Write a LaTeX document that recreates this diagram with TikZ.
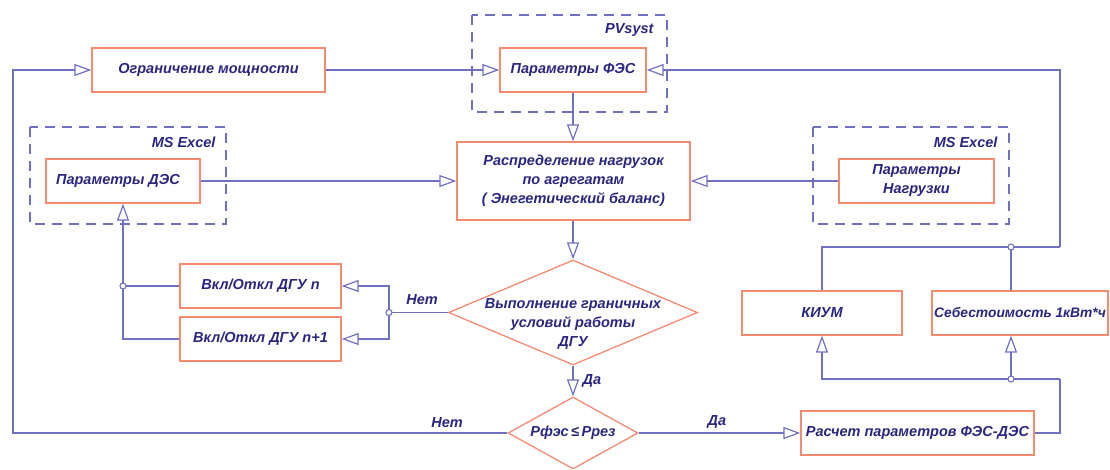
\documentclass[tikz,border=0pt]{standalone}
\usepackage{fontspec}
\setmainfont{Liberation Sans}
\usetikzlibrary{arrows.meta,shapes.geometric}
\definecolor{ln}{HTML}{7070C0}
\definecolor{bx}{HTML}{F58A72}
\definecolor{tx}{HTML}{2A2680}
\tikzset{
  lbl/.style={text=tx,font=\bfseries\itshape\fontsize{14.5}{19}\selectfont,align=center},
  box/.style={lbl,draw=bx,line width=1.3pt,fill=white,inner sep=0pt},
  dia/.style={draw=bx,line width=1.3pt,shape=diamond,inner sep=0pt},
  conn/.style={draw=ln,line width=1.2pt},
  arr/.style={conn,-{Triangle[open,length=17pt,width=12pt,line width=1.2pt]}},
  dashbox/.style={draw=ln,line width=1.2pt,dash pattern=on 10pt off 7pt},
  junc/.style={draw=ln,line width=1.1pt,fill=white}
}
\begin{document}
\begin{tikzpicture}[x=1pt,y=-1pt]
\useasboundingbox (0,0) rectangle (1110,469);
% dashed groups
\draw[dashbox] (472,15) rectangle (667,112);
\draw[dashbox] (30,127) rectangle (226,224);
\draw[dashbox] (813,127) rectangle (1009,224);
\node[lbl,anchor=east] (lpv) at (657,30) {PVsyst};
\node[lbl,anchor=east] (lex1) at (219,142) {MS Excel};
\node[lbl,anchor=east] (lex2) at (1001,142) {MS Excel};
% boxes
\node[box,minimum width=233pt,minimum height=44pt] (ogr) at (208.5,70) {Ограничение мощности};
\node[box,minimum width=146pt,minimum height=44pt] (pfes) at (573,70) {Параметры ФЭС};
\node[box,minimum width=233pt,minimum height=78pt] (raspr) at (573.5,181) {Распределение нагрузок\\по агрегатам\\( Энегетический баланс)};
\node[box,minimum width=154pt,minimum height=44pt] (pdes) at (123,181) {Параметры ДЭС\hspace{10pt}};
\node[box,minimum width=155pt,minimum height=44pt] (pnag) at (916.5,181) {Параметры\\Нагрузки};
\node[box,minimum width=161pt,minimum height=44pt] (v1) at (260.5,286) {Вкл/Откл ДГУ n};
\node[box,minimum width=161pt,minimum height=44pt] (v2) at (260.5,339) {Вкл/Откл ДГУ n+1};
\node[box,minimum width=160pt,minimum height=44pt] (kium) at (822,313) {КИУМ};
\node[box,minimum width=176pt,minimum height=44pt,font=\bfseries\itshape\fontsize{13.8}{19}\selectfont] (seb) at (1020,313) {Себестоимость 1кВт*ч};
\node[box,minimum width=233pt,minimum height=44pt] (rasch) at (917.5,433) {Расчет параметров ФЭС-ДЭС};
% decisions
\node[dia,minimum width=249pt,minimum height=105pt] (d1) at (573,312.5) {};
\node[lbl] (d1t) at (573,324) {Выполнение граничных\\условий работы\\ДГУ};
\node[dia,minimum width=130pt,minimum height=72pt] (d2) at (573,433) {};
\node[lbl] (d2t) at (573,433) {Рфэс\,≤\,Ррез};
% coordinates
\coordinate (j1) at (389,312.5);
\coordinate (j2) at (123,286);
\coordinate (j3) at (1011,379);
\coordinate (j4) at (1011,247);
\coordinate (cl) at (13,433);
\coordinate (cl2) at (13,70);
\coordinate (r3) at (1060,379);
\coordinate (r4) at (1060,247);
\coordinate (r5) at (1060,70);
% connectors
\draw[arr] (ogr.east) -- (pfes.west);
\draw[arr] (pfes.south) -- (pfes.south |- raspr.north);
\draw[arr] (pdes.east) -- (raspr.west);
\draw[arr] (pnag.west) -- (raspr.east);
\draw[arr] (d1.north |- raspr.south) -- (d1.north);
\draw[arr] (d1.south) -- (d2.north);
\draw[arr] (d2.east) -- (rasch.west);
\draw[arr] (d2.west) -- (cl) -- (cl2) -- (ogr.west);
\draw[conn] (d1.west) -- (j1);
\draw[arr] (j1) |- (v1.east);
\draw[arr] (j1) |- (v2.east);
\draw[conn] (v1.west) -- (j2);
\draw[arr] (v2.west) -| (pdes.south);
\draw[conn] (rasch.east) -| (r3);
\draw[arr] (r3) -| (kium.south);
\draw[arr] (j3) -- (j3 |- seb.south);
\draw[conn] (j3 |- seb.north) -- (j4);
\draw[conn] (kium.north) |- (r4);
\draw[arr] (r4) -- (r5) -- (pfes.east);
% junctions
\draw[junc] (j1) circle (3pt);
\draw[junc] (j2) circle (3pt);
\draw[junc] (j3) circle (3pt);
\draw[junc] (j4) circle (3pt);
% edge labels
\node[lbl] (ln1) at (422,300) {Нет};
\node[lbl] (ly1) at (592,381) {Да};
\node[lbl] (ln2) at (447,423) {Нет};
\node[lbl] (ly2) at (717,422) {Да};
\end{tikzpicture}
\end{document}
